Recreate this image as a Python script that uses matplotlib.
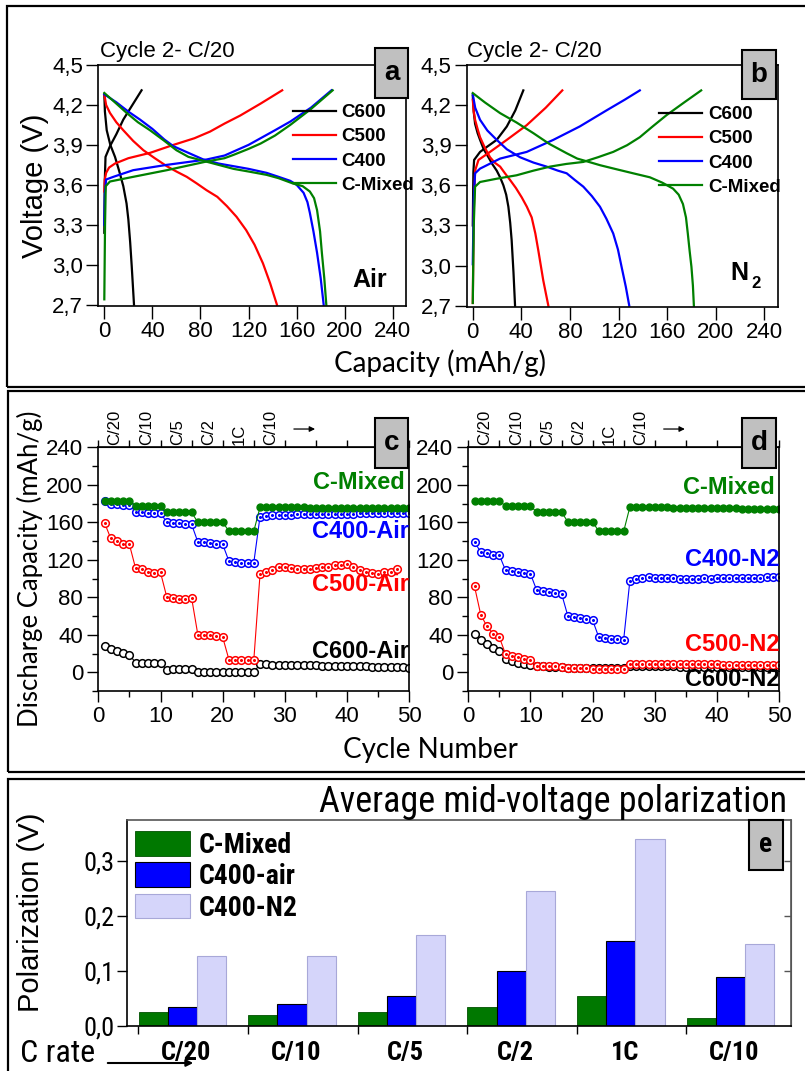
import matplotlib
matplotlib.use('Agg')
import matplotlib.pyplot as plt
from matplotlib.patches import Rectangle, FancyArrowPatch
from matplotlib import font_manager as fm
import matplotlib.transforms as mtransforms
import numpy as np

# ---------------- data: panel a (Air), cycle 2 C/20 ----------------
A_C600_CH_CAP = [0, 0.3, 1, 4.7, 10, 15.8, 22, 31]
A_C600_CH_V = [3.24, 3.6, 3.81, 3.89, 3.98, 4.09, 4.18, 4.31]
A_C600_DIS_CAP = [0, 0.5, 2, 5, 8.9, 12.5, 15.8, 18.5, 20, 21.5, 22.8, 24.7]
A_C600_DIS_V = [4.28, 4.15, 4.01, 3.9, 3.81, 3.7, 3.59, 3.46, 3.34, 3.17, 2.99, 2.7]

A_C500_CH_CAP = [0, 0.4, 1.5, 4, 8.9, 20, 38, 57.5, 75, 88, 100, 113, 130, 148]
A_C500_CH_V = [3.55, 3.64, 3.69, 3.73, 3.76, 3.8, 3.84, 3.9, 3.95, 4.0, 4.06, 4.12, 4.21, 4.31]
A_C500_DIS_CAP = [0, 1.5, 4.7, 10, 15.8, 24, 32.5, 42, 52, 60, 68.6, 77, 85, 94, 102, 110, 118, 125, 132, 138, 143.6]
A_C500_DIS_V = [4.28, 4.2, 4.14, 4.07, 4.01, 3.93, 3.86, 3.8, 3.74, 3.7, 3.66, 3.61, 3.56, 3.51, 3.44, 3.36, 3.26, 3.15, 3.01, 2.86, 2.7]

A_C400_CH_CAP = [0, 0.5, 1.5, 7.5, 24, 52, 85, 100, 107.5, 120, 130, 142, 154.7, 172, 189]
A_C400_CH_V = [3.3, 3.54, 3.64, 3.66, 3.71, 3.75, 3.79, 3.82, 3.85, 3.9, 3.95, 4.01, 4.075, 4.18, 4.31]
A_C400_DIS_CAP = [0, 10, 20, 29.7, 40, 50, 57.5, 70, 82.5, 95, 107.5, 120, 135, 145, 154.7, 160, 165.8, 169, 171, 174, 177, 180, 182.5]
A_C400_DIS_V = [4.28, 4.22, 4.15, 4.09, 4.02, 3.94, 3.89, 3.84, 3.79, 3.76, 3.74, 3.72, 3.69, 3.66, 3.63, 3.6, 3.54, 3.47, 3.39, 3.25, 3.09, 2.9, 2.7]

A_CMIX_CH_CAP = [0, 0.6, 1.2, 4.7, 24, 52, 85, 100, 107.5, 120, 130, 142, 154.7, 172, 190]
A_CMIX_CH_V = [2.74, 3.3, 3.59, 3.625, 3.66, 3.71, 3.775, 3.8, 3.825, 3.87, 3.91, 3.97, 4.05, 4.17, 4.31]
A_CMIX_DIS_CAP = [0, 10, 18.6, 28, 38, 50, 60, 70, 82.5, 95, 107.5, 120, 135, 145, 157, 165, 171, 174.5, 177, 179.5, 181, 183, 184.7]
A_CMIX_DIS_V = [4.29, 4.21, 4.14, 4.07, 4.01, 3.93, 3.86, 3.81, 3.78, 3.75, 3.72, 3.7, 3.675, 3.65, 3.61, 3.59, 3.55, 3.5, 3.41, 3.25, 3.09, 2.9, 2.7]

# ---------------- data: panel b (N2) ----------------
B_C600_CH_CAP = [0, 0.5, 1.1, 6, 12, 19.7, 28, 35, 41.6]
B_C600_CH_V = [3.3, 3.7, 3.79, 3.85, 3.89, 3.94, 4.04, 4.16, 4.31]
B_C600_DIS_CAP = [0, 0.8, 1.9, 4, 6, 9, 12.9, 16, 19.7, 22.5, 25.2, 27.5, 29.3, 30.8, 32, 33.5, 34.8]
B_C600_DIS_V = [4.27, 4.15, 4.06, 3.99, 3.94, 3.87, 3.81, 3.76, 3.71, 3.66, 3.6, 3.53, 3.44, 3.32, 3.19, 2.95, 2.7]

B_C500_CH_CAP = [0, 0.8, 1.9, 4.7, 14.2, 28, 44.4, 60, 73.7]
B_C500_CH_V = [2.72, 3.4, 3.71, 3.79, 3.85, 3.94, 4.05, 4.18, 4.31]
B_C500_DIS_CAP = [0, 0.8, 1.9, 4, 6, 10, 14.2, 18, 22.5, 26.5, 30.7, 35.5, 40.3, 44.5, 48.5, 51.5, 54, 56, 58, 60.2, 62.2]
B_C500_DIS_V = [4.24, 4.15, 4.09, 4.02, 3.96, 3.88, 3.81, 3.77, 3.74, 3.69, 3.64, 3.58, 3.51, 3.44, 3.36, 3.24, 3.11, 3.0, 2.89, 2.79, 2.7]

B_C400_CH_CAP = [0, 0.8, 1.9, 6, 22.5, 44.4, 66.3, 88, 110, 125, 137.5]
B_C400_CH_V = [3.01, 3.5, 3.69, 3.725, 3.8, 3.85, 3.94, 4.04, 4.16, 4.24, 4.31]
B_C400_DIS_CAP = [0, 2, 6, 12, 19.7, 28, 38.9, 50, 60.8, 70, 77.3, 84, 91, 98, 104.7, 110, 115.6, 119.5, 122.5, 126, 128.8]
B_C400_DIS_V = [4.28, 4.18, 4.09, 4.01, 3.94, 3.87, 3.81, 3.77, 3.74, 3.71, 3.69, 3.64, 3.59, 3.52, 3.44, 3.35, 3.24, 3.12, 2.99, 2.84, 2.7]

B_CMIX_CH_CAP = [0, 0.8, 1.9, 6, 20, 36, 50, 63.6, 77, 91, 103, 115.6, 127, 137.5, 148, 159.5, 174, 188]
B_CMIX_CH_V = [2.72, 3.3, 3.59, 3.625, 3.65, 3.675, 3.71, 3.74, 3.76, 3.775, 3.81, 3.85, 3.9, 3.96, 4.04, 4.125, 4.22, 4.31]
B_CMIX_DIS_CAP = [0, 10, 22.5, 36, 49.9, 63, 77.3, 86, 93.7, 105, 118.4, 132, 145.8, 156, 164.9, 169.5, 173, 175.5, 177, 178.5, 180, 181.2, 182]
B_CMIX_DIS_V = [4.29, 4.22, 4.14, 4.07, 3.99, 3.91, 3.84, 3.8, 3.78, 3.75, 3.72, 3.69, 3.66, 3.62, 3.575, 3.53, 3.46, 3.36, 3.24, 3.11, 2.99, 2.85, 2.7]

# ---------------- data: panels c/d (rate capability) ----------------
CYCLES = list(range(1, 51))
C_CMIX = [183, 183, 183, 183, 183, 177.7, 177.7, 177.7, 177.7, 177.7,
          170.6, 170.6, 170.6, 170.6, 170.6, 160, 160, 160, 160, 160,
          150.6, 150.6, 150.6, 150.6, 150.6, 176, 176, 176, 176, 176,
          176, 175.8, 175.8, 175.7, 175.6, 175.6, 175.5, 175.4, 175.4, 175.3,
          175.3, 175.2, 175.2, 175.1, 175.1, 175, 175, 175, 175, 175]
C_C400 = [183, 180, 179.5, 178.5, 178.5, 171, 170.5, 170, 170, 170,
          160, 159, 158.8, 158.5, 157.8, 139, 138.5, 137.8, 137, 136.4,
          118.6, 117.5, 117, 117, 117, 166, 167, 167.5, 168, 168,
          168.3, 168.5, 168.5, 168.7, 168.8, 169, 169, 169, 169.2, 169.3,
          169.3, 169.4, 169.5, 169.5, 169.5, 169.6, 169.6, 169.7, 169.7, 169.8]
C_C500_CYCLES = list(range(1, 49))
C_C500 = [159.5, 142.8, 140, 136.4, 136.4, 110.8, 109.7, 107.2, 106, 106.5,
          80.5, 79.4, 78, 78, 79.4, 40.2, 40.2, 39.5, 38.5, 37.4,
          13.5, 13.5, 13, 13, 13, 104.3, 107, 109, 111.8, 112.5,
          110.8, 110, 110, 110, 110.8, 111.8, 112.5, 114.3, 114.3, 115.4,
          112.5, 109, 107.2, 105.4, 104.7, 107.2, 107.2, 109.7]
C_C600 = [27.8, 25, 22.4, 20.3, 18.9, 10, 9.8, 9.7, 9.6, 9.6,
          2.8, 3, 3, 3, 3, 0.3, 0.2, 0.2, 0.2, 0.2,
          0.2, 0.2, 0.2, 0.2, 0.2, 8.5, 8.3, 8.1, 8, 7.9,
          7.7, 7.6, 7.5, 7.4, 7.3, 7.1, 7, 6.9, 6.8, 6.6,
          6.5, 6.3, 6.2, 6, 5.9, 5.7, 5.5, 5.3, 5.2, 5]

D_CMIX = [182.8, 182.8, 182.8, 182.8, 182.8, 177.4, 177.4, 177.4, 177.4, 177.4,
          170.9, 170.9, 170.9, 170.9, 170.9, 160.7, 160.7, 160.7, 160.7, 160.7,
          150.2, 150.2, 150.2, 150.2, 150.2, 176.3, 176.3, 176.2, 176.1, 176,
          175.9, 175.8, 175.7, 175.6, 175.5, 175.4, 175.3, 175.2, 175.1, 175,
          174.9, 174.8, 174.8, 174.7, 174.7, 174.6, 174.6, 174.5, 174.5, 174.5]
D_C400 = [138.6, 128.5, 126.7, 125.6, 124.9, 108.6, 107.5, 107, 105.7, 105,
          87.6, 86.9, 85.8, 85, 84, 60.5, 59, 57.9, 56.8, 55.7,
          37.3, 36.2, 35.8, 35.8, 34.4, 97.7, 99.5, 100.3, 101.4, 101,
          100.5, 100.3, 100.2, 100, 99.8, 99.7, 100, 100.2, 100, 100.3,
          100.2, 100.4, 100.5, 100.6, 100.8, 100.9, 101, 101.2, 101.5, 102]
D_C500 = [91.6, 61.5, 48.9, 40.9, 37.3, 19.2, 17.4, 16.3, 14.5, 13.4,
          6.9, 6.9, 6.2, 6.2, 5.8, 4.7, 4.5, 4.4, 4.2, 4,
          3.6, 3.6, 3.6, 3.6, 3.6, 9, 9, 8.9, 8.9, 8.8,
          8.7, 8.7, 8.6, 8.6, 8.5, 8.5, 8.4, 8.4, 8.3, 8.3,
          8.2, 8.2, 8.1, 8, 8, 7.9, 7.8, 7.7, 7.6, 7.6]
D_C600 = [40.5, 34.4, 29.7, 26, 22.8, 14.5, 12, 10, 8.7, 7.6,
          6.2, 6.2, 6.1, 6.1, 6, 4.7, 4.7, 4.7, 4.7, 4.7,
          4.7, 4.7, 4.7, 4.7, 4.7, 6.5, 6.5, 6.4, 6.4, 6.3,
          6.3, 6.2, 6.2, 6.1, 6.1, 6, 6, 5.9, 5.9, 5.8,
          5.8, 5.7, 5.7, 5.6, 5.6, 5.5, 5.5, 5.4, 5.4, 5.4]
RATE_LABELS = ['C/20', 'C/10', 'C/5', 'C/2', '1C', 'C/10']

# ---------------- data: panel e (polarization) ----------------
E_RATES = ['C/20', 'C/10', 'C/5', 'C/2', '1C', 'C/10']
E_CMIX = [0.025, 0.02, 0.025, 0.035, 0.055, 0.015]
E_C400_AIR = [0.035, 0.04, 0.055, 0.10, 0.155, 0.09]
E_C400_N2 = [0.127, 0.127, 0.165, 0.245, 0.34, 0.15]

# ---------------- fonts ----------------
names = {f.name for f in fm.fontManager.ttflist}
SANS = 'Liberation Sans'
CAL = ['Lato', 'DejaVu Sans']
NARROW_FAMS = [n for n in ['Liberation Sans Narrow', 'Roboto Condensed', 'Roboto'] if n in names]
NARROW = dict(family=NARROW_FAMS + ['DejaVu Sans'])
plt.rcParams['font.family'] = [SANS, 'DejaVu Sans']

W, H = 805, 1071
fig = plt.figure(figsize=(W / 100, H / 100), dpi=100)


def fx(x):
    return x / W


def fy(y):
    return 1 - y / H


def ax_px(l, t, r, b):
    return fig.add_axes([l / W, 1 - b / H, (r - l) / W, (b - t) / H])


def frame(l, t, r, b, lw=1.6):
    fig.add_artist(Rectangle((fx(l), fy(b)), (r - l) / W, (b - t) / H,
                             transform=fig.transFigure, fill=False,
                             ec='black', lw=lw, zorder=0.5))


def letter_box(l, t, r, b, s, **kw):
    fig.add_artist(Rectangle((fx(l), fy(b)), (r - l) / W, (b - t) / H,
                             transform=fig.transFigure, fc='#C0C0C0',
                             ec='black', lw=1.5, zorder=5))
    fig.text(fx((l + r) / 2), fy((t + b) / 2), s, ha='center', va='center',
             fontsize=20, fontweight='bold', zorder=6, **kw)


# panel frames
frame(7, 6, 815, 387)
frame(8, 391, 815, 772)
frame(8, 779, 815, 1085)

VT = [2.7, 3.0, 3.3, 3.6, 3.9, 4.2, 4.5]
VTL = ['2,7', '3,0', '3,3', '3,6', '3,9', '4,2', '4,5']


def volt_panel(ax, series, legx, legy):
    for cc, cv, dc, dv, col, lab in series:
        ax.plot(cc, cv, color=col, lw=1.6, label=lab)
        ax.plot(dc, dv, color=col, lw=1.6)
    ax.set_xlim(-5, 251)
    ax.set_ylim(2.69, 4.5)
    ax.set_xticks(range(0, 241, 40))
    ax.set_yticks(VT)
    ax.set_yticklabels(VTL)
    ax.tick_params(direction='out', length=9, width=1, labelsize=16, pad=2)
    for sp in ax.spines.values():
        sp.set_linewidth(1.2)
    ax.legend(loc='upper left', bbox_to_anchor=(fx(legx), fy(legy)),
              bbox_transform=fig.transFigure, frameon=False, borderpad=0,
              borderaxespad=0, handlelength=2.3, handletextpad=0.3,
              labelspacing=0.38, prop=dict(family=SANS, weight='bold', size=13.5))


axa = ax_px(98.3, 65, 406, 306)
volt_panel(axa, [
    (A_C600_CH_CAP, A_C600_CH_V, A_C600_DIS_CAP, A_C600_DIS_V, 'black', 'C600'),
    (A_C500_CH_CAP, A_C500_CH_V, A_C500_DIS_CAP, A_C500_DIS_V, '#FF0000', 'C500'),
    (A_C400_CH_CAP, A_C400_CH_V, A_C400_DIS_CAP, A_C400_DIS_V, '#0000FF', 'C400'),
    (A_CMIX_CH_CAP, A_CMIX_CH_V, A_CMIX_DIS_CAP, A_CMIX_DIS_V, '#008000', 'C-Mixed'),
], 293, 104)
axa.set_ylabel('Voltage (V)', fontsize=21, labelpad=2)
fig.text(fx(100), fy(52), 'Cycle 2- C/20', fontsize=16, ha='left', va='center')
fig.text(fx(370), fy(280), 'Air', fontsize=18, fontweight='bold', ha='center', va='center')

axb = ax_px(466.7, 65, 777.7, 307)
volt_panel(axb, [
    (B_C600_CH_CAP, B_C600_CH_V, B_C600_DIS_CAP, B_C600_DIS_V, 'black', 'C600'),
    (B_C500_CH_CAP, B_C500_CH_V, B_C500_DIS_CAP, B_C500_DIS_V, '#FF0000', 'C500'),
    (B_C400_CH_CAP, B_C400_CH_V, B_C400_DIS_CAP, B_C400_DIS_V, '#0000FF', 'C400'),
    (B_CMIX_CH_CAP, B_CMIX_CH_V, B_CMIX_DIS_CAP, B_CMIX_DIS_V, '#008000', 'C-Mixed'),
], 659, 106)
fig.text(fx(467), fy(52), 'Cycle 2- C/20', fontsize=16, ha='left', va='center')
fig.text(fx(739), fy(273), 'N', fontsize=18, fontweight='bold', ha='center', va='center')
fig.text(fx(756), fy(283), '2', fontsize=12, fontweight='bold', ha='center', va='center')
fig.text(fx(440), fy(363), 'Capacity (mAh/g)', fontsize=20, family=CAL, ha='center', va='center')

letter_box(375, 48, 408, 98, 'a')
letter_box(742, 50, 776, 99, 'b')


# ---------------- c / d ----------------
def rate_panel(ax, series, labels):
    for x, y, col, filled in series:
        if filled:
            ax.plot(x, y, color=col, lw=0.8, marker='o', ms=5, mfc=col, mec=col, mew=1)
        else:
            ax.plot(x, y, color=col, lw=0.8, marker='o', ms=5.5, mfc='white', mec=col, mew=1.1)
            if col != 'black':
                ax.plot(x, y, ls='none', marker='o', ms=1.2, mfc=col, mec=col)
    ax.set_xlim(0, 50)
    ax.set_ylim(-20, 240)
    ax.set_xticks(range(0, 51, 10))
    ax.set_xticks(range(5, 50, 10), minor=True)
    ax.set_yticks(range(0, 241, 40))
    ax.set_yticks(range(-20, 241, 40), minor=True)
    ax.tick_params(direction='out', length=8, width=1, labelsize=16, pad=3)
    ax.tick_params(which='minor', direction='out', length=4, width=1)
    for sp in ax.spines.values():
        sp.set_linewidth(1.2)
    sec = ax.secondary_xaxis('top')
    sec.set_xticks(range(0, 51, 5))
    sec.set_xticklabels([])
    sec.tick_params(direction='out', length=5, width=1)
    tr = mtransforms.blended_transform_factory(ax.transData, ax.transAxes)
    for i, r in enumerate(RATE_LABELS):
        ax.text(2.7 + 5 * i, 1.01, r, rotation=90, ha='center', va='bottom',
                fontsize=12, transform=tr)
    ax.annotate('', xy=(35.3, 1.075), xytext=(31.0, 1.075), xycoords=tr,
                textcoords=tr, arrowprops=dict(arrowstyle='-|>', lw=0.9,
                                               color='black', mutation_scale=8))
    for s, col, xr, yv in labels:
        ax.text(xr, yv, s, color=col, fontsize=17, fontweight='bold',
                ha='right', va='center')


axc = ax_px(98.3, 447.3, 409.3, 691)
rate_panel(axc, [
    (CYCLES, C_C600, 'black', False),
    (C_C500_CYCLES, C_C500, '#FF0000', False),
    (CYCLES, C_C400, '#0000FF', False),
    (CYCLES, C_CMIX, '#008000', True),
], [('C-Mixed', '#008000', 49.3, 202), ('C400-Air', '#0000FF', 49.9, 150),
    ('C500-Air', '#FF0000', 49.9, 94), ('C600-Air', 'black', 49.9, 22)])
axc.set_ylabel('Discharge Capacity (mAh/g)', fontsize=18.5, family=CAL, labelpad=2)

axd = ax_px(468.3, 447.3, 779, 691)
rate_panel(axd, [
    (CYCLES, D_C600, 'black', False),
    (CYCLES, D_C500, '#FF0000', False),
    (CYCLES, D_C400, '#0000FF', False),
    (CYCLES, D_CMIX, '#008000', True),
], [('C-Mixed', '#008000', 49.3, 197), ('C400-N2', '#0000FF', 50.1, 120),
    ('C500-N2', '#FF0000', 50.1, 30), ('C600-N2', 'black', 50.1, -8)])
fig.text(fx(430), fy(750), 'Cycle Number', fontsize=20, family=CAL, ha='center', va='center')

letter_box(375, 418, 408, 468, 'c')
letter_box(742, 418, 776, 468, 'd')

# ---------------- e ----------------
axe = ax_px(127.3, 820, 790.5, 1026)
x = np.arange(len(E_RATES))
bw = 0.266
axe.bar(x - 0.304, E_CMIX, bw, color='#007800', ec='#005000', lw=0.6, label='C-Mixed')
axe.bar(x - 0.038, E_C400_AIR, bw, color='#0000FF', ec='black', lw=0.8, label='C400-air')
axe.bar(x + 0.228, E_C400_N2, bw, color='#D5D5FA', ec='#A8A8D8', lw=0.8, label='C400-N2')
axe.set_xlim(-0.54, 5.51)
axe.set_ylim(0, 0.375)
axe.set_yticks([0, 0.1, 0.2, 0.3])
axe.set_yticklabels(['0,0', '0,1', '0,2', '0,3'], fontsize=19, **NARROW)
axe.set_xticks(x - 0.44)
axe.set_xticklabels([])
axe.tick_params(axis='x', direction='out', length=6, width=1)
axe.tick_params(axis='y', direction='out', length=7, width=1, pad=2)
for sp in axe.spines.values():
    sp.set_linewidth(1.2)
for sp in ['top', 'right']:
    axe.spines[sp].set_color('#555555')
sec_e = axe.secondary_yaxis('right')
sec_e.set_yticks([0.1, 0.2, 0.3])
sec_e.set_yticklabels([])
sec_e.tick_params(direction='in', length=5, width=1, color='#555555')
sec_e.spines['right'].set_color('#555555')
for i, r in enumerate(E_RATES):
    axe.text(i, -0.028, r, ha='center', va='top', fontsize=19,
             fontweight='bold', transform=axe.transData, **NARROW)
fig.text(fx(31), fy(912), 'Polarization (V)', fontsize=21, rotation=90,
         ha='center', va='center')
axe.legend(loc='upper left', bbox_to_anchor=(fx(134.5), fy(831)),
           bbox_transform=fig.transFigure, frameon=False, borderpad=0,
           borderaxespad=0, handlelength=2.0, handleheight=1.0,
           handletextpad=0.3, labelspacing=0.12,
           prop=dict(weight='bold', size=20, **NARROW))
fig.text(fx(787), fy(802), 'Average mid-voltage polarization', fontsize=26,
         ha='right', va='center', **NARROW)
fig.text(fx(20), fy(1054), 'C rate', fontsize=23, ha='left', va='center', **NARROW)
fig.add_artist(FancyArrowPatch(
    (fx(105), fy(1063)), (fx(196), fy(1063)), transform=fig.transFigure,
    arrowstyle='-|>', mutation_scale=10, lw=1.5, color='black'))
letter_box(749, 820, 783, 870, 'e', **NARROW)

fig.savefig('out.png', dpi=100)
